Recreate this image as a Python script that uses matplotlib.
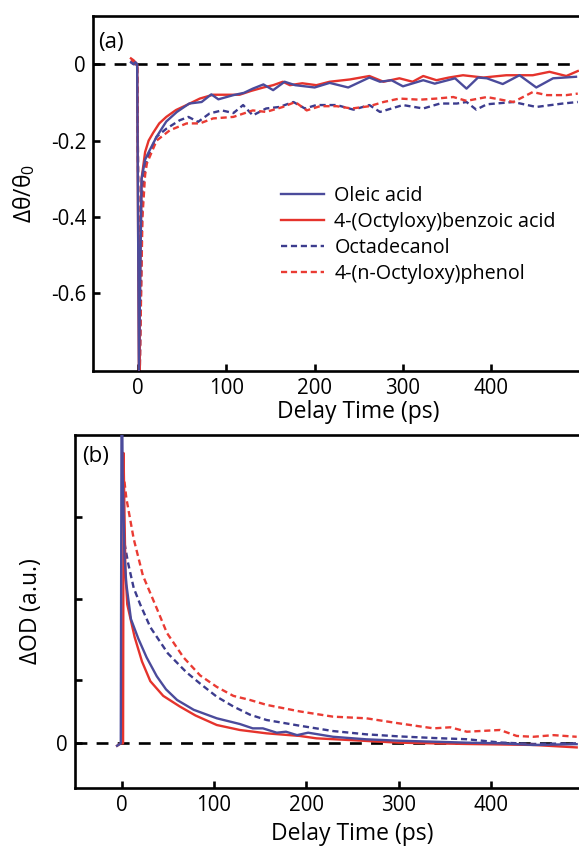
import numpy as np
import matplotlib
matplotlib.use("Agg")
import matplotlib.pyplot as plt

plt.rcParams['font.family'] = ['Open Sans', 'DejaVu Sans']
plt.rcParams['mathtext.default'] = 'regular'

blue = '#4b4b9b'
red = '#e5332c'
blue_d = '#3c3c8e'
red_d = '#ea3b33'

labels = ['Oleic acid', '4-(Octyloxy)benzoic acid', 'Octadecanol', '4-(n-Octyloxy)phenol']

# panel (a): rotation  dtheta/theta0
ta_oleic = [-8, -5, -3, -1, 1, 4, 8, 11, 21, 32, 44, 58, 72, 83, 91, 108, 120, 130, 142, 153, 166, 178, 200, 217, 238,
            262, 274, 287, 300, 323, 336, 359, 372, 385, 395, 413, 432, 451, 470, 496]
ya_oleic = [0.005, 0.0, 0.005, 0.0, -0.80, -0.30, -0.25, -0.235, -0.19, -0.15, -0.125, -0.103, -0.099, -0.079, -0.092,
            -0.081, -0.075, -0.064, -0.053, -0.068, -0.046, -0.055, -0.061, -0.049, -0.061,
            -0.035, -0.046, -0.042, -0.058, -0.042, -0.051, -0.037, -0.064, -0.035, -0.037, -0.052, -0.029, -0.061,
            -0.037, -0.033]

ta_benz = [-8, -5, -3, -1, 1, 4, 8, 12, 17, 24, 32, 43, 55, 70, 85, 100, 115, 128, 142, 153, 164, 172, 186, 202, 217,
           240, 262, 278, 296, 311, 323, 338, 352, 368, 391, 417, 447, 466, 485, 498]
ya_benz = [0.015, 0.01, 0.005, 0.0, -0.80, -0.30, -0.23, -0.20, -0.18, -0.155, -0.138, -0.12, -0.107, -0.09, -0.08,
           -0.08, -0.08, -0.07, -0.061, -0.055, -0.046, -0.055, -0.05, -0.055, -0.046,
           -0.04, -0.031, -0.046, -0.037, -0.046, -0.031, -0.042, -0.035, -0.029, -0.035, -0.029, -0.029, -0.02,
           -0.031, -0.018]

ta_octa = [-8, -5, -3, -1, 2, 5, 8, 11, 21, 32, 47, 57, 68, 81, 95, 108, 119, 130, 145, 160, 176, 189, 202, 225, 244,
           262, 274, 300, 323, 342, 361, 372, 383, 395, 425, 451, 481, 498]
ya_octa = [0.005, 0.0, 0.0, 0.0, -0.80, -0.33, -0.27, -0.243, -0.19, -0.169, -0.147, -0.138, -0.151, -0.129, -0.121,
           -0.128, -0.107, -0.134, -0.116, -0.112, -0.099, -0.116, -0.107, -0.107, -0.119,
           -0.107, -0.125, -0.107, -0.116, -0.103, -0.103, -0.099, -0.119, -0.105, -0.099, -0.112, -0.103, -0.099]

ta_phen = [-8, -5, -3, -1, 2, 5, 8, 10, 21, 36, 55, 70, 85, 108, 130, 145, 164, 178, 191, 206, 225, 242, 262, 278, 296,
           319, 338, 357, 372, 395, 425, 447, 463, 485, 498]
ya_phen = [0.01, 0.005, 0.0, 0.0, -0.80, -0.40, -0.29, -0.26, -0.20, -0.173, -0.155, -0.155, -0.142, -0.138, -0.121,
           -0.125, -0.112, -0.099, -0.121, -0.110, -0.110, -0.116, -0.110, -0.099, -0.090,
           -0.093, -0.090, -0.086, -0.096, -0.086, -0.099, -0.073, -0.081, -0.081, -0.077]

# panel (b): transient absorption dOD (a.u.)
tb_oleic = [-5, -1, 0, 1, 3, 5, 10, 18, 27, 38, 48, 60, 78, 103, 128, 142, 153, 168, 178, 190, 202, 229, 265, 300, 338,
            374, 410, 446, 493]
yb_oleic = [-0.03, 0.0, 5.0, 3.3, 2.3, 1.95, 1.52, 1.28, 1.05, 0.82, 0.66, 0.53, 0.41, 0.306, 0.236, 0.183, 0.183,
            0.13, 0.142, 0.10, 0.13, 0.08, 0.049, 0.032, 0.02, 0.008, 0.0, -0.02, -0.01]

tb_benz = [-5, -1, 1.5, 2, 4, 6, 14, 22, 31, 45, 63, 80, 103, 128, 157, 193, 211, 247, 300, 374, 446, 493]
yb_benz = [-0.03, 0.0, 0.0, 3.55, 2.1, 1.7, 1.3, 1.0, 0.76, 0.58, 0.45, 0.34, 0.224, 0.163, 0.122, 0.09, 0.061, 0.04,
           0.008, -0.008, -0.02, -0.05]

tb_octa = [3, 7, 13, 20, 31, 50, 70, 85, 103, 121, 139, 157, 193, 229, 265, 300, 338, 374, 410, 446, 493]
yb_octa = [2.45, 2.2, 1.9, 1.7, 1.42, 1.1, 0.87, 0.73, 0.57, 0.45, 0.35, 0.285, 0.215, 0.15, 0.11, 0.085, 0.065,
           0.05, 0.01, -0.008, 0.0]

tb_phen = [3, 5, 13, 23, 38, 49, 67, 85, 103, 121, 139, 157, 193, 229, 265, 300, 320, 338, 356, 374, 410, 428, 446,
           468, 493]
yb_phen = [3.2, 3.0, 2.5, 2.05, 1.65, 1.35, 1.05, 0.83, 0.69, 0.58, 0.53, 0.47, 0.39, 0.326, 0.306, 0.245, 0.212,
           0.183, 0.196, 0.142, 0.163, 0.09, 0.08, 0.10, 0.08]

xticks = [0, 100, 200, 300, 400]

fig = plt.figure(figsize=(5.79, 8.46), dpi=100)

# axes run past the right edge, like the cropped original
ax1 = fig.add_axes([93 / 579, 1 - 370.7 / 846, 530.7 / 579, (370.7 - 16) / 846])
ax2 = fig.add_axes([75 / 579, 1 - 788.3 / 846, 554.3 / 579, (788.3 - 435) / 846])

dash = (0, (2.6, 1.6))
lw = 1.7

ax1.axhline(0, color='k', lw=1.9, ls=(0, (4.5, 3.5)), zorder=1)
ax1.plot(ta_octa, ya_octa, color=blue_d, lw=lw, ls=dash, label=labels[2], zorder=2)
ax1.plot(ta_phen, ya_phen, color=red_d, lw=lw, ls=dash, label=labels[3], zorder=2)
ax1.plot(ta_benz, ya_benz, color=red, lw=lw, label=labels[1], zorder=3)
ax1.plot(ta_oleic, ya_oleic, color=blue, lw=lw, label=labels[0], zorder=4)

ax1.set_xlim(-51, 550)
ax1.set_ylim(-0.802, 0.126)
ax1.set_xticks(xticks)
ax1.set_yticks([0, -0.2, -0.4, -0.6])
ax1.set_yticklabels(['0', '-0.2', '-0.4', '-0.6'])
ax1.set_xlabel('Delay Time (ps)', fontsize=16.5, labelpad=1)
ax1.set_ylabel(r'$\Delta\theta/\theta_0$', fontsize=16.5, labelpad=10)
ax1.text(0.01, 0.955, '(a)', transform=ax1.transAxes, fontsize=16, va='top', ha='left')

h, l = ax1.get_legend_handles_labels()
order = [3, 2, 0, 1]
ax1.legend([h[i] for i in order], [l[i] for i in order], loc='upper left',
           bbox_to_anchor=(281 / 579, 1 - 186 / 846), bbox_transform=fig.transFigure,
           frameon=False, fontsize=14.2, handlelength=2.2, handletextpad=0.5,
           labelspacing=0.3, borderpad=0, borderaxespad=0)

ax2.axhline(0, color='k', lw=1.9, ls=(0, (4.5, 3.5)), zorder=1)
ax2.plot(tb_octa, yb_octa, color=blue_d, lw=lw, ls=dash, zorder=2)
ax2.plot(tb_phen, yb_phen, color=red_d, lw=lw, ls=dash, zorder=2)
ax2.plot(tb_benz, yb_benz, color=red, lw=lw, zorder=3)
ax2.plot(tb_oleic, yb_oleic, color=blue, lw=lw, zorder=4)

ax2.set_xlim(-50.6, 550)
ax2.set_ylim(-0.55, 3.77)
ax2.set_xticks(xticks)
ax2.set_yticks([0, 0.77, 1.77, 2.77])
ax2.set_yticklabels(['0', '', '', ''])
ax2.set_xlabel('Delay Time (ps)', fontsize=16.5, labelpad=4)
ax2.set_ylabel(r'$\Delta$OD (a.u.)', fontsize=16.5, labelpad=10)
ax2.text(0.013, 0.97, '(b)', transform=ax2.transAxes, fontsize=16, va='top', ha='left')

for ax in (ax1, ax2):
    for s in ax.spines.values():
        s.set_linewidth(1.9)
    ax.tick_params(direction='in', length=5, width=1.9, labelsize=14.8, pad=5)

plt.savefig('out.png', dpi=100)
